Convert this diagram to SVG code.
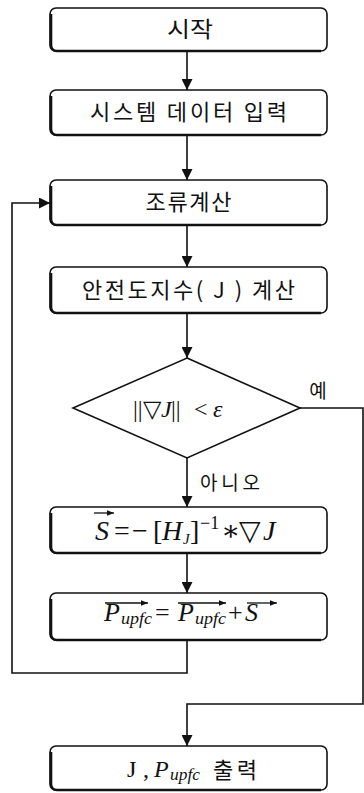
<svg xmlns="http://www.w3.org/2000/svg" width="364" height="793" viewBox="0 0 364 793">
<defs>
<style>
.box{fill:#fff;stroke:#111;stroke-width:1.6}
.sh{fill:none;stroke:#111;stroke-width:2.6}
.ln{fill:none;stroke:#111;stroke-width:1.6}
.ko{font-family:"Noto Sans CJK KR","Noto Sans",sans-serif;font-weight:400;fill:#111}
.m{font-family:"Liberation Serif","DejaVu Serif",serif;fill:#111}
.i{font-style:italic}
.vec{fill:none;stroke:#111;stroke-width:1.3}
</style>
<marker id="ah" viewBox="0 0 10 10" refX="10" refY="5" markerWidth="11" markerHeight="11" markerUnits="userSpaceOnUse" orient="auto">
<path d="M0,0 L10,5 L0,10 Z" fill="#111"/>
</marker>
<marker id="ah2" viewBox="0 0 10 10" refX="10" refY="5" markerWidth="7" markerHeight="7" markerUnits="userSpaceOnUse" orient="auto">
<path d="M0,1 L10,5 L0,9 Z" fill="#111"/>
</marker>
</defs>
<rect width="364" height="793" fill="#fff"/>

<g id="connectors">
<path class="ln" d="M187,51 V90" marker-end="url(#ah)"/>
<path class="ln" d="M187,135 V180" marker-end="url(#ah)"/>
<path class="ln" d="M187,225 V267" marker-end="url(#ah)"/>
<path class="ln" d="M187,313 V358" marker-end="url(#ah)"/>
<path class="ln" d="M187,458 V507" marker-end="url(#ah)"/>
<path class="ln" d="M187,553 V593" marker-end="url(#ah)"/>
<path class="ln" d="M187,640 V673 H12 V203 H50" marker-end="url(#ah)"/>
<path class="ln" d="M300,408 H363 V704 H187 V746" marker-end="url(#ah)"/>
<text class="ko" x="318" y="398" text-anchor="middle" font-size="19" font-weight="700">예</text>
<text class="ko" x="200" y="490" font-size="19" textLength="60" lengthAdjust="spacing">아니오</text>
</g>

<g id="start">
<rect class="box" x="50" y="8" width="277" height="43" rx="6"/>
<path class="sh" d="M51,14 V45 Q51,51 57,51 H321"/>
<text class="ko" x="190" y="37" font-size="22" text-anchor="middle" textLength="46" lengthAdjust="spacingAndGlyphs">시작</text>
</g>

<g id="input">
<rect class="box" x="50" y="90" width="277" height="45" rx="6"/>
<path class="sh" d="M51,96 V129 Q51,135 57,135 H321"/>
<text class="ko" x="188.5" y="120" font-size="22" text-anchor="middle" textLength="197" lengthAdjust="spacing">시스템 데이터 입력</text>
</g>

<g id="loadflow">
<rect class="box" x="50" y="180" width="277" height="45" rx="6"/>
<path class="sh" d="M51,186 V219 Q51,225 57,225 H321"/>
<text class="ko" x="188.5" y="210" font-size="22" text-anchor="middle" textLength="86" lengthAdjust="spacing">조류계산</text>
</g>

<g id="index">
<rect class="box" x="50" y="267" width="277" height="46" rx="6"/>
<path class="sh" d="M51,273 V307 Q51,313 57,313 H321"/>
<text class="ko" x="188.5" y="298" font-size="22" text-anchor="middle" textLength="213" lengthAdjust="spacing">안전도지수( J ) 계산</text>
</g>

<g id="decision">
<polygon class="ln" points="187,358 300,408 187,458 73,408" fill="#fff"/>
<text class="m" y="417" font-size="24"><tspan x="133">||</tspan><tspan x="143">▽</tspan><tspan x="161" class="i">J</tspan><tspan x="171">||</tspan><tspan x="194">&lt;</tspan><tspan x="213" class="i">ε</tspan></text>
</g>

<g id="step">
<rect class="box" x="50" y="507" width="277" height="46" rx="6"/>
<path class="sh" d="M51,513 V547 Q51,553 57,553 H321"/>
<path class="vec" d="M94,513 H114" marker-end="url(#ah2)"/>
<text class="m" y="540" font-size="28"><tspan x="95" class="i">S</tspan><tspan x="114">=</tspan><tspan x="132">−</tspan><tspan x="153">[</tspan><tspan x="162" class="i">H</tspan><tspan x="183" class="i" font-size="15" dy="4">J</tspan><tspan x="190" dy="-4">]</tspan><tspan x="200" font-size="18" dy="-11">−1</tspan><tspan x="221" dy="11">∗</tspan><tspan x="239">▽</tspan><tspan x="263" class="i">J</tspan></text>
</g>

<g id="update">
<rect class="box" x="50" y="593" width="277" height="47" rx="6"/>
<path class="sh" d="M51,599 V634 Q51,640 57,640 H321"/>
<path class="vec" d="M105,603 H148" marker-end="url(#ah2)"/>
<path class="vec" d="M178,603 H226" marker-end="url(#ah2)"/>
<path class="vec" d="M247,603 H277" marker-end="url(#ah2)"/>
<text class="m" y="621" font-size="26"><tspan x="104" class="i">P</tspan><tspan x="121" class="i" font-size="16" dy="3" textLength="31" lengthAdjust="spacingAndGlyphs">upfc</tspan><tspan x="155" dy="-3">=</tspan><tspan x="178" class="i">P</tspan><tspan x="195" class="i" font-size="16" dy="3" textLength="31" lengthAdjust="spacingAndGlyphs">upfc</tspan><tspan x="228" dy="-3">+</tspan><tspan x="245" class="i">S</tspan></text>
</g>

<g id="output">
<rect class="box" x="50" y="746" width="277" height="44" rx="6"/>
<path class="sh" d="M51,752 V784 Q51,790 57,790 H321"/>
<text class="m" y="777" font-size="24"><tspan x="127">J</tspan><tspan x="143">,</tspan><tspan x="154" class="i">P</tspan><tspan x="170" class="i" font-size="16" dy="3" textLength="30" lengthAdjust="spacingAndGlyphs">upfc</tspan></text>
<text class="ko" x="213" y="778" font-size="22" textLength="44" lengthAdjust="spacing">출력</text>
</g>
</svg>
